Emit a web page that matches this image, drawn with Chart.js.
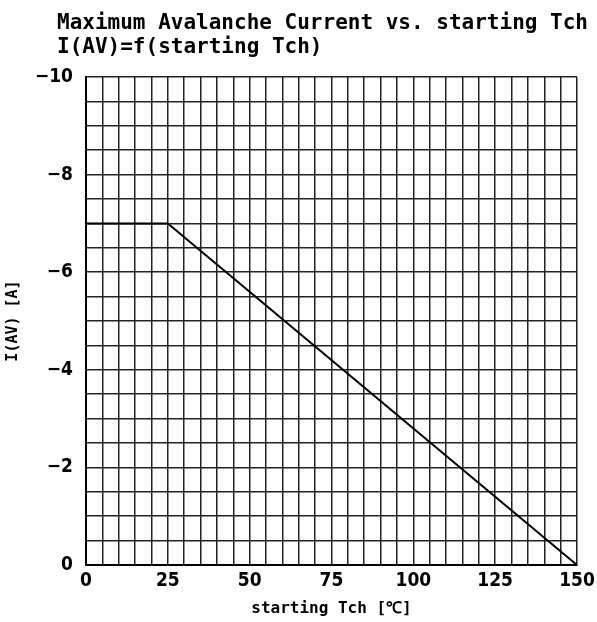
<!DOCTYPE html>
<html>
<head>
<meta charset="utf-8">
<script src="https://cdn.jsdelivr.net/npm/chart.js@4.4.1/dist/chart.umd.min.js"></script>
<style>
  body { margin: 0; background: #fff; }
  canvas { display: block; }
</style>
</head>
<body>
<canvas id="chart" width="597" height="622"></canvas>
<script>
const tch = [0, 25, 150];
const iav = [-7, -7, 0];
const titleLines = ["Maximum Avalanche Current vs. starting Tch", "I(AV)=f(starting Tch)"];
const xLabel = "starting Tch [℃]";
const yLabel = "I(AV) [A]";

const tickFont = { family: "'DejaVu Sans Condensed', 'DejaVu Sans', sans-serif", size: 19, weight: "bold" };
const monoFont = "'DejaVu Sans Mono', 'Liberation Mono', monospace";

const ctx = document.getElementById("chart");
const config = {
  type: "line",
  data: {
    datasets: [
      {
        data: tch.map((t, i) => ({ x: t, y: iav[i] })),
        borderColor: "#000",
        borderWidth: 2,
        pointRadius: 0,
        tension: 0,
      },
    ],
  },
  options: {
    responsive: false,
    animation: false,
    events: [],
    layout: { padding: { top: 77, right: 20, left: 0, bottom: 0 } },
    plugins: { legend: { display: false }, tooltip: { enabled: false } },
    scales: {
      x: {
        type: "linear",
        min: 0,
        max: 150,
        border: { color: "#000", width: 2 },
        grid: { color: "#222", lineWidth: 1.5, drawTicks: false },
        ticks: {
          stepSize: 5,
          autoSkip: false,
          maxRotation: 0,
          padding: 5,
          color: "#000",
          font: tickFont,
          callback: (v) => (v % 25 === 0 ? String(v) : ""),
        },
        title: {
          display: true,
          text: xLabel,
          color: "#000",
          font: { family: monoFont, size: 16, weight: "bold" },
          padding: { top: 2 },
        },
        afterFit: (s) => { s.height = 57; s.paddingRight = 0; },
      },
      y: {
        min: -10,
        max: 0,
        reverse: true,
        border: { color: "#000", width: 2 },
        grid: { color: "#222", lineWidth: 1.5, drawTicks: false },
        ticks: {
          stepSize: 0.5,
          autoSkip: false,
          padding: 13,
          color: "#000",
          font: tickFont,
          callback: (v) => (Number.isInteger(v) && v % 2 === 0 ? (v < 0 ? "−" + Math.abs(v) : String(v)) : ""),
        },
        title: {
          display: true,
          text: yLabel,
          color: "#000",
          font: { family: monoFont, size: 15, weight: "bold" },
          padding: { bottom: 0 },
        },
        afterFit: (s) => { s.width = 86; },
      },
    },
  },
  plugins: [
    {
      afterDraw: (chart) => {
        const c = chart.ctx;
        c.save();
        c.fillStyle = "#000";
        c.font = "bold 21px " + monoFont;
        c.textBaseline = "alphabetic";
        c.textAlign = "left";
        c.fillText(titleLines[0], 57, 29);
        c.fillText(titleLines[1], 57, 53);
        c.restore();
      },
    },
  ],
};

const chart = new Chart(ctx, config);
</script>
</body>
</html>
